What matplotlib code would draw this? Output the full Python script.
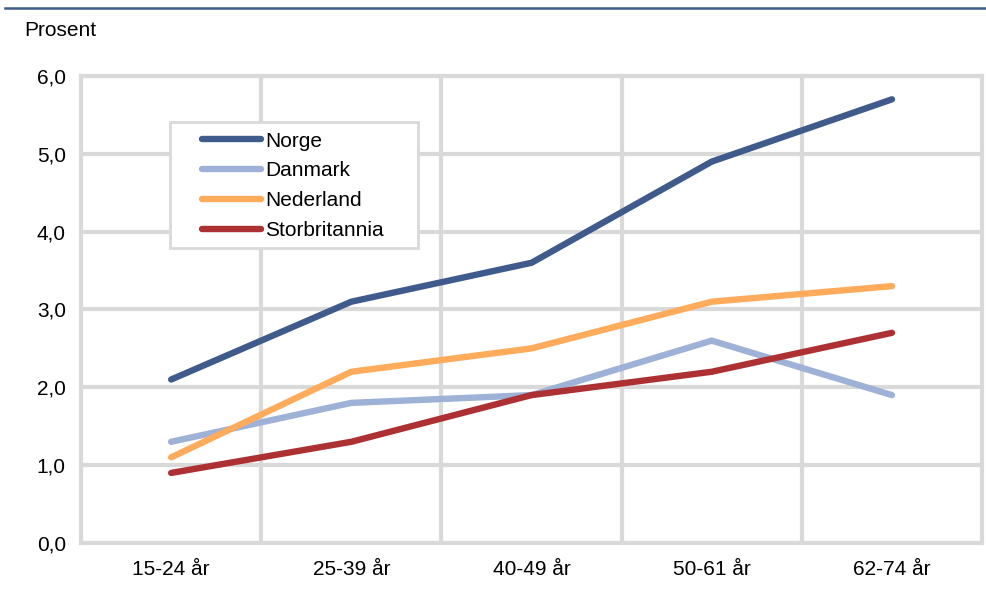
import numpy as np
import matplotlib
matplotlib.use('Agg')
import matplotlib.pyplot as plt
from matplotlib.lines import Line2D
from matplotlib.patches import Rectangle

plt.rcParams['font.family'] = ['Liberation Sans', 'DejaVu Sans']

categories = ['15-24 år', '25-39 år', '40-49 år', '50-61 år', '62-74 år']
norge = [2.1, 3.1, 3.6, 4.9, 5.7]
danmark = [1.3, 1.8, 1.9, 2.6, 1.9]
nederland = [1.1, 2.2, 2.5, 3.1, 3.3]
storbritannia = [0.9, 1.3, 1.9, 2.2, 2.7]
yticks = [0, 1, 2, 3, 4, 5, 6]

series = [
    ('Norge', norge, '#3f5b8c'),
    ('Danmark', danmark, '#9eb1d7'),
    ('Nederland', nederland, '#ffab5c'),
    ('Storbritannia', storbritannia, '#ad3033'),
]

grid_col = '#d9d9d9'
fs = 15

fig = plt.figure(figsize=(9.87, 5.94), dpi=100)
ax = fig.add_axes([0.0821, 0.0859, 0.9129, 0.7862])

x = np.arange(len(categories))
for name, vals, col in series:
    ax.plot(x, vals, color=col, lw=4.6, solid_capstyle='round', solid_joinstyle='round', label=name, zorder=3)

ax.set_xlim(-0.5, len(categories) - 0.5)
ax.set_ylim(0, 6)
ax.set_yticks(yticks)
ax.set_yticklabels([f'{v:.1f}'.replace('.', ',') for v in yticks])
ax.set_xticks(x)
ax.set_xticklabels(categories)
ax.set_xticks(np.arange(0.5, len(categories) - 0.5, 1), minor=True)
ax.tick_params(axis='both', which='both', length=0, labelsize=fs, colors='black')
ax.tick_params(axis='y', pad=11)
ax.tick_params(axis='x', pad=12)
ax.grid(axis='y', which='major', color=grid_col, lw=3.0, zorder=0)
ax.grid(axis='x', which='minor', color=grid_col, lw=3.0, zorder=0)
ax.set_axisbelow(True)
for s in ax.spines.values():
    s.set_color(grid_col)
    s.set_linewidth(3.0)

# legend box drawn separately, entries placed inside it
box = Rectangle((0.0988, 0.6317), 0.2752, 0.2698, transform=ax.transAxes,
                facecolor='white', edgecolor=grid_col, lw=2.0, zorder=4)
ax.add_patch(box)
handles = [Line2D([0], [0], color=c, lw=4.6, solid_capstyle='round') for _, _, c in series]
leg = ax.legend(handles, [n for n, _, _ in series], loc='upper left',
                bbox_to_anchor=(0.134, 0.881), fontsize=fs, frameon=False,
                handlelength=2.85, handletextpad=0.2, labelspacing=0.52,
                borderpad=0, borderaxespad=0)
leg.set_zorder(5)

fig.text(0.025, 0.948, 'Prosent', fontsize=fs, va='center', ha='left')
fig.add_artist(Line2D([0.005, 1.0], [0.986, 0.986], color='#3f5b8c', lw=1.8))

fig.savefig('out.png', dpi=100)
